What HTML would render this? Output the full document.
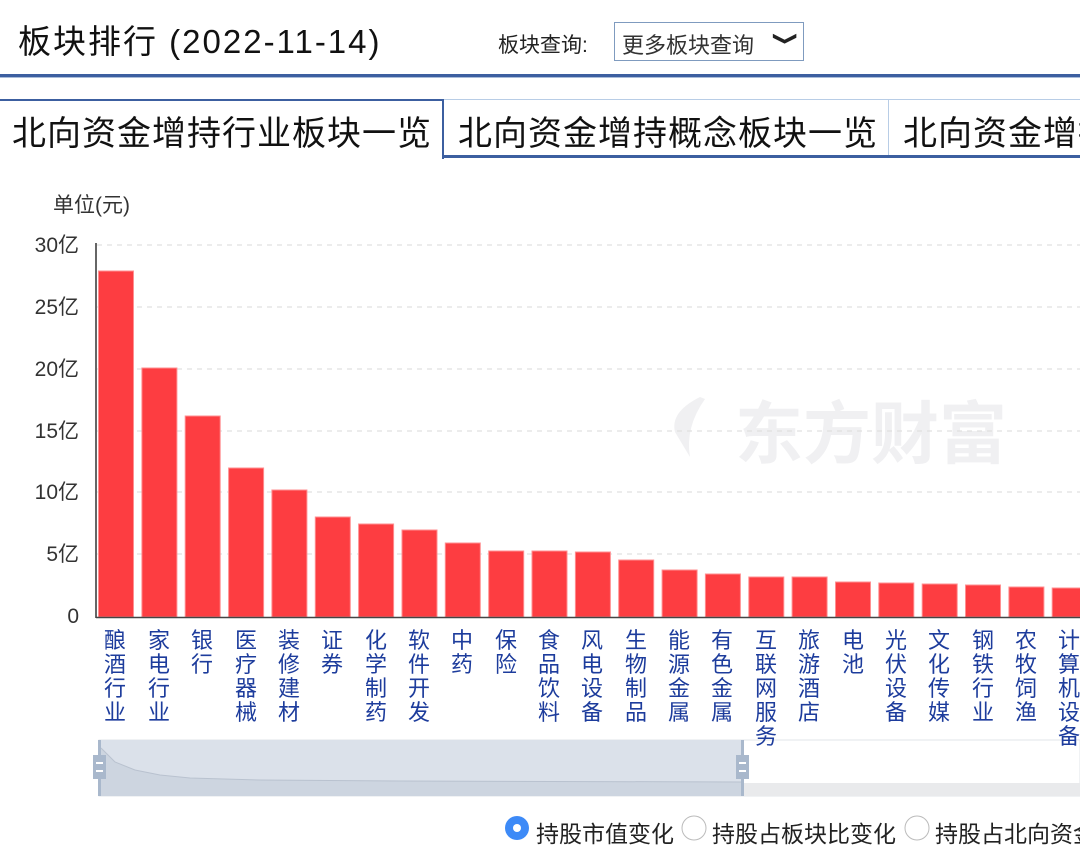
<!DOCTYPE html>
<html><head><meta charset="utf-8">
<style>
body{margin:0;width:1080px;height:851px;overflow:hidden;background:#fff;font-family:"Liberation Sans","Noto Sans CJK SC",sans-serif;position:relative}
.a{position:absolute;white-space:nowrap}
.lb{position:absolute;top:629px;width:23px;font-size:22px;line-height:24px;color:#1d3c9c;word-break:break-all;white-space:normal}
</style></head><body>
<div class="a" style="left:18px;top:15px;font-size:33px;color:#111;letter-spacing:2px">板块排行 (2022-11-14)</div>
<div class="a" style="left:498px;top:29px;font-size:21px;color:#222">板块查询:</div>
<div class="a" style="left:614px;top:22px;width:188px;height:37px;border:1px solid #7f9bbf;box-sizing:content-box"></div>
<div class="a" style="left:622px;top:28px;font-size:22px;color:#333">更多板块查询</div>
<div class="a" style="left:778px;top:28px;font-size:18px;color:#222;transform:rotate(90deg) scaleY(1.3)">❯</div>
<div class="a" style="left:0;top:74px;width:1080px;height:3px;background:#3c5fa0"></div>
<div class="a" style="left:0;top:77px;width:1080px;height:1px;background:#a9bcd9"></div>
<!-- tabs -->
<div class="a" style="left:0;top:99px;width:443px;height:2px;background:#3c5fa0"></div>
<div class="a" style="left:442px;top:99px;width:2px;height:60px;background:#3c5fa0"></div>
<div class="a" style="left:444px;top:99px;width:636px;height:1px;background:#b8cde6"></div>
<div class="a" style="left:444px;top:155px;width:636px;height:3px;background:#3c5fa0"></div>
<div class="a" style="left:888px;top:100px;width:1px;height:55px;background:#b8cde6"></div>
<div class="a" style="left:12px;top:106px;font-size:34px;color:#111;letter-spacing:1px">北向资金增持行业板块一览</div>
<div class="a" style="left:458px;top:106px;font-size:34px;color:#111;letter-spacing:1px">北向资金增持概念板块一览</div>
<div class="a" style="left:903px;top:106px;font-size:34px;color:#111;letter-spacing:1px">北向资金增持</div>
<div class="a" style="left:53px;top:189px;font-size:21px;color:#333">单位(元)</div>
<svg class="a" style="left:0;top:0" width="1080" height="851">
<text x="735" y="458" font-size="68" font-weight="bold" fill="#f0f0f2" font-family="Noto Sans CJK SC,sans-serif">东方财富</text>
<path d="M700 397 q-30 15 -25 35 l15 25 q-5 -30 15 -58z" fill="#f0f0f2"/>
<g stroke="#e0e0e0" stroke-dasharray="5,5" stroke-width="1.2">
<line x1="97" x2="1080" y1="245" y2="245"/><line x1="97" x2="1080" y1="307" y2="307"/><line x1="97" x2="1080" y1="369" y2="369"/><line x1="97" x2="1080" y1="431" y2="431"/><line x1="97" x2="1080" y1="492" y2="492"/><line x1="97" x2="1080" y1="554" y2="554"/>
</g>
<g font-size="21" fill="#333" text-anchor="end">
<text x="79" y="252">30亿</text><text x="79" y="314">25亿</text><text x="79" y="376">20亿</text><text x="79" y="438">15亿</text><text x="79" y="499">10亿</text><text x="79" y="561">5亿</text><text x="79" y="623">0</text>
</g>
<g fill="#fd3d41" stroke="#ff8f91" stroke-width="1">
<rect x="98.5" y="271" width="35" height="346"/>
<rect x="141.9" y="368" width="35" height="249"/>
<rect x="185.2" y="416" width="35" height="201"/>
<rect x="228.6" y="468" width="35" height="149"/>
<rect x="271.9" y="490" width="35" height="127"/>
<rect x="315.3" y="517" width="35" height="100"/>
<rect x="358.6" y="524" width="35" height="93"/>
<rect x="402" y="530" width="35" height="87"/>
<rect x="445.3" y="543" width="35" height="74"/>
<rect x="488.7" y="551" width="35" height="66"/>
<rect x="532" y="551" width="35" height="66"/>
<rect x="575.4" y="552" width="35" height="65"/>
<rect x="618.7" y="560" width="35" height="57"/>
<rect x="662.1" y="570" width="35" height="47"/>
<rect x="705.4" y="574" width="35" height="43"/>
<rect x="748.8" y="577" width="35" height="40"/>
<rect x="792.1" y="577" width="35" height="40"/>
<rect x="835.5" y="582" width="35" height="35"/>
<rect x="878.8" y="583" width="35" height="34"/>
<rect x="922.2" y="584" width="35" height="33"/>
<rect x="965.5" y="585" width="35" height="32"/>
<rect x="1008.9" y="587" width="35" height="30"/>
<rect x="1052.2" y="588" width="35" height="29"/>
</g>
<line x1="96" x2="96" y1="243" y2="618" stroke="#333" stroke-width="1.5"/>
<line x1="96" x2="1080" y1="617.5" y2="617.5" stroke="#444" stroke-width="1.5"/>
<!-- datazoom -->
<rect x="99" y="740" width="981" height="56" fill="#fff" stroke="#e2e4e8"/>
<path d="M99 750 L115 765 L135 773 L160 778 L190 782 L700 783 L1080 783 L1080 796 L99 796Z" fill="#e9eaec"/>
<rect x="99" y="740" width="643" height="56" fill="#dbe1ea"/>
<path d="M101 748 L115 762 L135 770 L160 775 L190 778 L260 780 L400 781 L742 782 L742 796 L101 796Z" fill="#cdd5e0"/>
<path d="M101 748 L115 762 L135 770 L160 775 L190 778 L260 780 L400 781 L742 782" fill="none" stroke="#b9c2cf"/>
<rect x="98" y="740" width="3" height="56" fill="#a9b8cc"/>
<rect x="741" y="740" width="3" height="56" fill="#a9b8cc"/>
<rect x="93" y="755" width="13" height="24" fill="#a9b8cc"/><rect x="96" y="762" width="7" height="2" fill="#fff"/><rect x="96" y="770" width="7" height="2" fill="#fff"/>
<rect x="736" y="755" width="13" height="24" fill="#a9b8cc"/><rect x="739" y="762" width="7" height="2" fill="#fff"/><rect x="739" y="770" width="7" height="2" fill="#fff"/>
<circle cx="517" cy="828" r="12" fill="#3d8af7"/><circle cx="517" cy="828" r="4" fill="#fff"/>
<circle cx="694" cy="828" r="12" fill="#fff" stroke="#bbb"/>
<circle cx="917" cy="828" r="12" fill="#fff" stroke="#bbb"/>
</svg>
<div class="lb" style="left:104px">酿酒行业</div>
<div class="lb" style="left:148px">家电行业</div>
<div class="lb" style="left:191px">银行</div>
<div class="lb" style="left:235px">医疗器械</div>
<div class="lb" style="left:278px">装修建材</div>
<div class="lb" style="left:321px">证券</div>
<div class="lb" style="left:365px">化学制药</div>
<div class="lb" style="left:408px">软件开发</div>
<div class="lb" style="left:451px">中药</div>
<div class="lb" style="left:495px">保险</div>
<div class="lb" style="left:538px">食品饮料</div>
<div class="lb" style="left:581px">风电设备</div>
<div class="lb" style="left:625px">生物制品</div>
<div class="lb" style="left:668px">能源金属</div>
<div class="lb" style="left:711px">有色金属</div>
<div class="lb" style="left:755px">互联网服务</div>
<div class="lb" style="left:798px">旅游酒店</div>
<div class="lb" style="left:842px">电池</div>
<div class="lb" style="left:885px">光伏设备</div>
<div class="lb" style="left:928px">文化传媒</div>
<div class="lb" style="left:972px">钢铁行业</div>
<div class="lb" style="left:1015px">农牧饲渔</div>
<div class="lb" style="left:1058px">计算机设备</div>
<div class="a" style="left:536px;top:815px;font-size:23px;color:#222">持股市值变化</div>
<div class="a" style="left:712px;top:815px;font-size:23px;color:#222">持股占板块比变化</div>
<div class="a" style="left:935px;top:815px;font-size:23px;color:#222">持股占北向资金</div>
</body></html>
